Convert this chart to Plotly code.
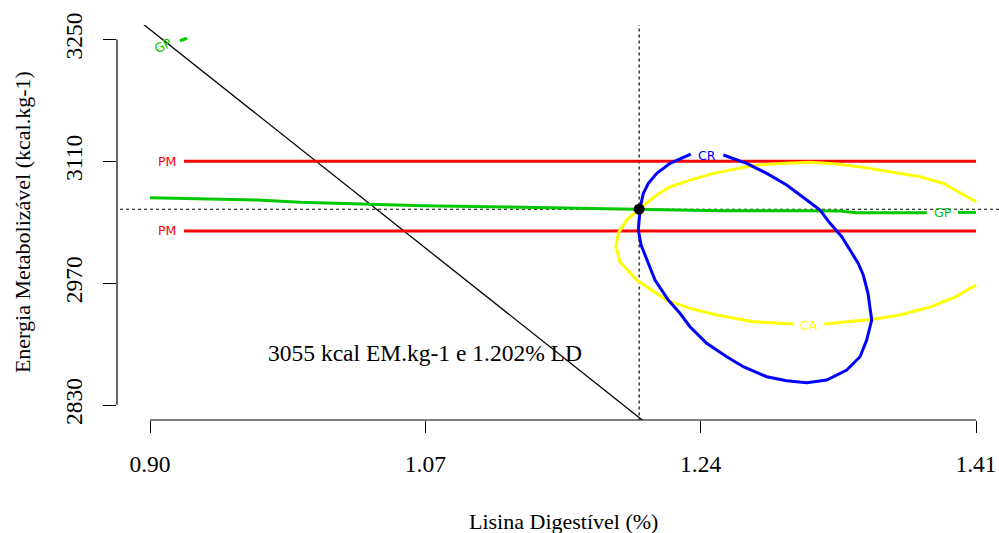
import plotly.graph_objects as go

# ---------------- data ----------------
x_ticks = [0.90, 1.07, 1.24, 1.41]
y_ticks = [2830, 2970, 3110, 3250]

# optimum point
opt_x = 1.202
opt_y = 3055

# black diagonal line (two points on it)
diag_x = [0.8959, 1.2026]
diag_y = [3267.5, 2814.7]

# PM contour (two horizontal red levels)
pm_levels = [3110, 3030]
pm_x = [0.921, 1.41]
pm_label_x = 0.9105

# GP contour (green) - main segment, label gap marked with None
gp_x = [0.900, 0.935, 0.966, 0.9926, 1.0377, 1.0686, 1.1202, 1.1612, 1.1982, 1.2026,
        1.2519, 1.3013, 1.326, 1.3363, 1.3796, None, 1.3989, 1.410]
gp_y = [3068.2, 3066.7, 3065.6, 3062.9, 3060.6, 3059.0, 3057.5, 3056.0, 3055.2, 3054.9,
        3053.3, 3053.3, 3052.9, 3051.0, 3051.0, None, 3051.4, 3051.4]
gp_label = (1.3899, 3051.2)
# GP contour small piece at top-left
gp2_x = [0.9185, 0.9228]
gp2_y = [3248.6, 3251.5]
gp2_label = (0.9080, 3243.7)

# CR contour (blue), open at the label
cr_x = [1.2540, 1.2684, 1.2808, 1.2931, 1.3055, 1.3137, 1.3199, 1.3271, 1.3322, 1.3373,
        1.3404, 1.3433, 1.3456, 1.3425, 1.3384, 1.3302, 1.3178, 1.3055, 1.2931, 1.2808,
        1.2663, 1.2561, 1.2437, 1.2334, 1.2272, 1.2200, 1.2118, 1.2067, 1.2032, 1.2015,
        1.2021, 1.2026, 1.2046, 1.2077, 1.2129, 1.2211, 1.2339]
cr_y = [3117.3, 3107.7, 3096.2, 3082.8, 3065.6, 3054.1, 3038.8, 3023.4, 3008.1, 2992.8,
        2979.4, 2958.3, 2927.7, 2904.7, 2885.5, 2870.2, 2858.7, 2855.6, 2857.9, 2862.5,
        2874.0, 2885.5, 2900.9, 2920.0, 2935.4, 2950.6, 2973.6, 2996.6, 3013.8, 3031.1,
        3042.6, 3056.4, 3073.3, 3084.8, 3096.2, 3107.7, 3118.4]
cr_label = (1.2441, 3116.5)

# CA contour (yellow), label gap marked with None
ca_x = [1.410, 1.3898, 1.3754, 1.3589, 1.3404, 1.3240, 1.3075, 1.2890, 1.2746, 1.2602,
        1.2478, 1.2334, 1.2211, 1.2129, 1.2026, 1.1943, 1.1891, 1.1877, 1.1902, 1.2005,
        1.2190, 1.2334, 1.2499, 1.2725, 1.2972, None, 1.3162, 1.3322, 1.3466, 1.3631,
        1.3816, 1.3970, 1.410]
ca_y = [3063.6, 3084.8, 3092.3, 3097.4, 3103.1, 3106.9, 3108.9, 3107.5, 3105.8, 3100.8,
        3096.2, 3088.5, 3080.8, 3071.3, 3056.4, 3042.6, 3027.3, 3011.9, 2994.3, 2973.6,
        2950.6, 2941.1, 2933.4, 2925.7, 2923.1, None, 2923.1, 2925.7, 2928.5, 2933.4,
        2942.6, 2954.1, 2967.9]
ca_label = (1.3071, 2921.9)

note_text = "3055 kcal EM.kg-1 e 1.202% LD"
note_pos = (1.07, 2890)

x_title = "Lisina Digestível (%)"
y_title = "Energia Metabolizável (kcal.kg-1)"

# ---------------- styles ----------------
RED = "#FF0000"
GREEN = "#00C800"
BLUE = "#0000FF"
YELLOW = "#FFFF00"
SERIF = "Liberation Serif, Times New Roman, serif"
LABF = "DejaVu Sans, sans-serif"

X_RANGE = [0.8796, 1.4242]
Y_RANGE = [2812.8, 3266.7]

fig = go.Figure()

# dotted reference lines
fig.add_trace(go.Scatter(x=[X_RANGE[0] - 0.05, X_RANGE[1] + 0.05], y=[opt_y, opt_y], mode="lines",
                         line=dict(color="black", width=1.2, dash="dot"), hoverinfo="skip"))
fig.add_trace(go.Scatter(x=[opt_x, opt_x], y=[Y_RANGE[0] - 50, Y_RANGE[1] + 50], mode="lines",
                         line=dict(color="black", width=1.2, dash="dot"), hoverinfo="skip"))

# diagonal
slope = (diag_y[0] - diag_y[1]) / (diag_x[1] - diag_x[0])
fig.add_trace(go.Scatter(x=[diag_x[0] - 0.03, diag_x[1] + 0.03],
                         y=[diag_y[0] + 0.03 * slope, diag_y[1] - 0.03 * slope],
                         mode="lines", line=dict(color="black", width=1.3), hoverinfo="skip"))

# PM lines
for lv in pm_levels:
    fig.add_trace(go.Scatter(x=pm_x, y=[lv, lv], mode="lines",
                             line=dict(color=RED, width=3), hoverinfo="skip"))
    fig.add_annotation(x=pm_label_x, y=lv, text="PM", showarrow=False,
                       font=dict(family=LABF, size=12.5, color=RED), xanchor="center", yanchor="middle")

# GP
fig.add_trace(go.Scatter(x=gp_x, y=gp_y, mode="lines", connectgaps=False,
                         line=dict(color=GREEN, width=3), hoverinfo="skip"))
fig.add_trace(go.Scatter(x=gp2_x, y=gp2_y, mode="lines",
                         line=dict(color=GREEN, width=3), hoverinfo="skip"))
fig.add_annotation(x=gp_label[0], y=gp_label[1], text="GP", showarrow=False,
                   font=dict(family=LABF, size=12.5, color=GREEN))
fig.add_annotation(x=gp2_label[0], y=gp2_label[1], text="GP", showarrow=False, textangle=-27,
                   font=dict(family=LABF, size=12.5, color=GREEN))

# CA
fig.add_trace(go.Scatter(x=ca_x, y=ca_y, mode="lines", connectgaps=False,
                         line=dict(color=YELLOW, width=3), hoverinfo="skip"))
fig.add_annotation(x=ca_label[0], y=ca_label[1], text="CA", showarrow=False,
                   font=dict(family=LABF, size=12.5, color=YELLOW))

# CR
fig.add_trace(go.Scatter(x=cr_x, y=cr_y, mode="lines",
                         line=dict(color=BLUE, width=3), hoverinfo="skip"))
fig.add_annotation(x=cr_label[0], y=cr_label[1], text="CR", showarrow=False,
                   font=dict(family=LABF, size=12.5, color=BLUE))

# optimum point
fig.add_trace(go.Scatter(x=[opt_x], y=[opt_y], mode="markers",
                         marker=dict(color="black", size=11), hoverinfo="skip"))

# note
fig.add_annotation(x=note_pos[0], y=note_pos[1], text=note_text, showarrow=False,
                   font=dict(family=SERIF, size=23.5, color="black"))

# axis titles
fig.add_annotation(xref="paper", yref="paper", x=0.5057, y=-0.2557, text=x_title,
                   showarrow=False, xanchor="center", yanchor="middle",
                   font=dict(family=SERIF, size=22, color="black"))
fig.add_annotation(xref="paper", yref="paper", x=-0.1077, y=0.501, text=y_title, textangle=-90,
                   showarrow=False, xanchor="center", yanchor="middle",
                   font=dict(family=SERIF, size=22, color="black"))

# axis lines (only between first and last tick, as in R)
fig.add_shape(type="line", xref="x", yref="paper", x0=x_ticks[0], x1=x_ticks[-1], y0=0, y1=0,
              line=dict(color="black", width=1.2))
fig.add_shape(type="line", xref="paper", yref="y", x0=0, x1=0, y0=y_ticks[0], y1=y_ticks[-1],
              line=dict(color="black", width=1.2))

fig.update_layout(
    width=999, height=533,
    margin=dict(l=117, r=0, t=25, b=113),
    paper_bgcolor="white", plot_bgcolor="white",
    showlegend=False,
    font=dict(family=SERIF, size=23, color="black"),
    xaxis=dict(range=X_RANGE, tickmode="array", tickvals=x_ticks,
               ticktext=[f"{v:.2f}" for v in x_ticks],
               ticks="outside", ticklen=12, tickwidth=1.2, tickcolor="black",
               showgrid=False, zeroline=False, showline=False,
               ticklabelstandoff=11,
               tickfont=dict(family=SERIF, size=23.5)),
    yaxis=dict(range=Y_RANGE, tickmode="array", tickvals=y_ticks,
               ticktext=[str(v) for v in y_ticks], tickangle=-90,
               ticks="outside", ticklen=13, tickwidth=1.2, tickcolor="black",
               showgrid=False, zeroline=False, showline=False,
               ticklabelstandoff=12,
               tickfont=dict(family=SERIF, size=23.5)),
)

fig.write_html("out.html")
